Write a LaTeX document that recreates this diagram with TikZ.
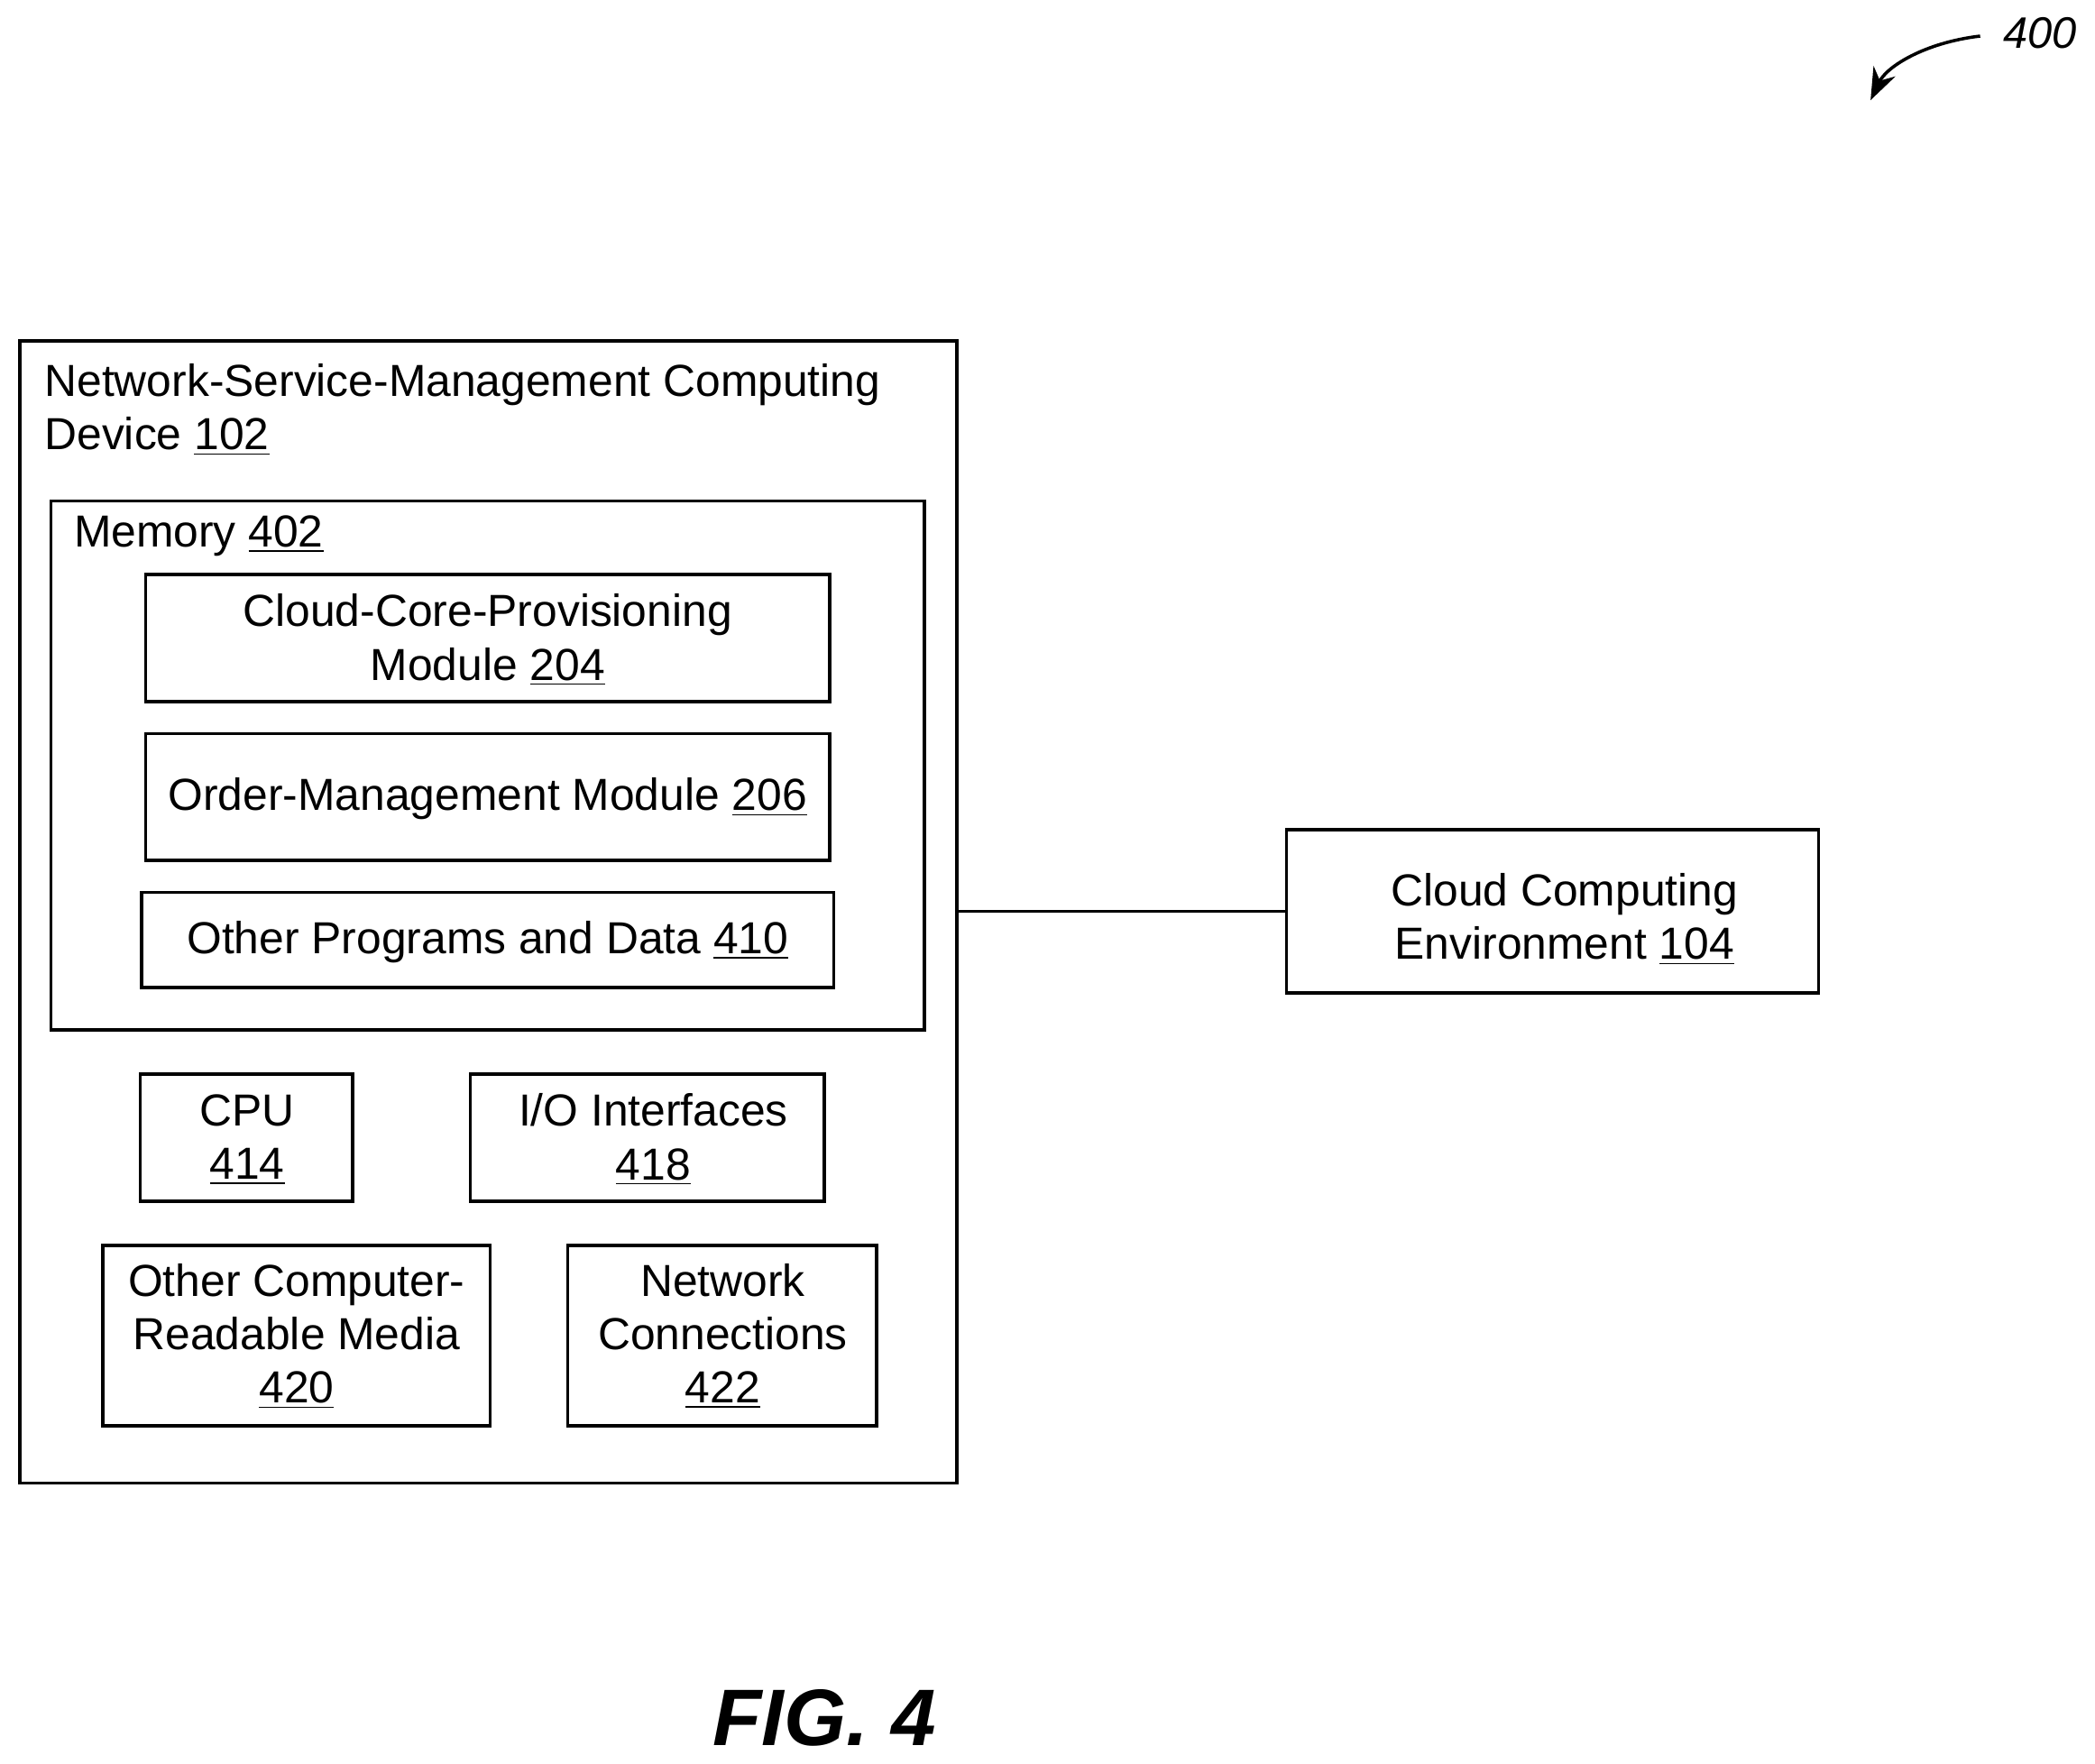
\documentclass[tikz,border=0pt]{standalone}
\usepackage{fontspec}
\setmainfont{Liberation Sans}
\usetikzlibrary{arrows.meta}
\newcommand{\un}[1]{\underline{#1}}
\begin{document}
\begin{tikzpicture}[x=0.5pt,y=-0.5pt,
  box/.style={draw,line width=1.2pt},
  txt/.style={font=\fontsize{16.8}{20}\selectfont,align=center,inner sep=0pt}]
\useasboundingbox (0,0) rectangle (1568,1320);
\draw[box] (15,255) rectangle (716,1110);
\node[txt,align=left,anchor=north west] (h) at (33,272) {Network-Service-Management Computing\\Device \un{102}};
\draw[box] (38,375) rectangle (692,771);
\node[txt,anchor=west] (m) at (55,401) {Memory \un{402}};
\draw[box] (109,430) rectangle (621,525); \node[txt] (a) at (365,479) {Cloud-Core-Provisioning\\Module \un{204}};
\draw[box] (109,549) rectangle (621,644); \node[txt] (b) at (365,598) {Order-Management Module \un{206}};
\draw[box] (106,668) rectangle (624,739); \node[txt] (c) at (365,705) {Other Programs and Data \un{410}};
\draw[box] (105,804) rectangle (264,899); \node[txt] (d) at (185,853) {CPU\\\un{414}};
\draw[box] (352,804) rectangle (617,899); \node[txt] (e) at (489,853) {I/O Interfaces\\\un{418}};
\draw[box] (77,932) rectangle (367,1067); \node[txt] (f) at (222,1000) {Other Computer-\\Readable Media\\\un{420}};
\draw[box] (425,932) rectangle (656,1067); \node[txt] (g) at (541,1000) {Network\\Connections\\\un{422}};
\draw[box] (963,621) rectangle (1361,743); \node[txt] (k) at (1171,688) {Cloud Computing\\Environment \un{104}};
\coordinate (p) at (716,682); \coordinate (q) at (963,682);
\draw[line width=1.2pt] (p) -- (q);
\node[font=\fontsize{30}{36}\selectfont\bfseries\itshape] (fig) at (617,1286) {FIG. 4};
\node[font=\fontsize{16.5}{20}\selectfont\itshape] (n) at (1527,25) {400};
\coordinate (s) at (1482,27); \coordinate (t) at (1400,75);
\draw[line width=1.2pt,-{Stealth[length=12pt,width=9pt]}] (s) .. controls (1440,32) and (1412,50) .. (t);
\end{tikzpicture}
\end{document}
